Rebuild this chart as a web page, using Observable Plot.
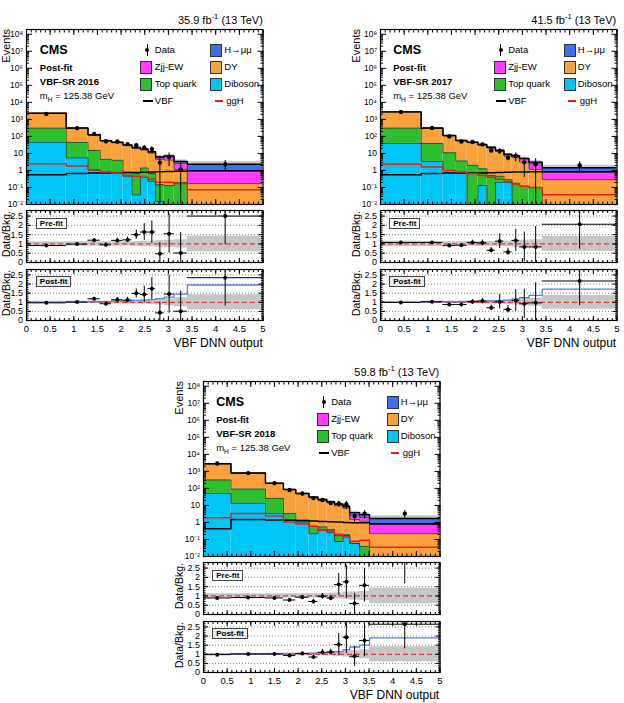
<!DOCTYPE html>
<html><head><meta charset="utf-8">
<script src="https://cdn.jsdelivr.net/npm/d3@7"></script>
<script src="https://cdn.jsdelivr.net/npm/@observablehq/plot@0.6"></script>
<style>
body{margin:0;background:#fff;}
#root{position:relative;width:624px;height:703px;font-family:"Liberation Sans",Arial,Helvetica,sans-serif;color:#000;overflow:hidden;background:#fff;}
#root svg{display:block;overflow:visible;}
.t{position:absolute;white-space:nowrap;}
sub,sup{font-size:70%;line-height:0;}
</style></head><body><div id="root"></div>
<script>
// ---------------- DATA ----------------
const lumis = ["35.9", "41.5", "59.8"];
const yearLabels = ["2016", "2017", "2018"];
const legendLabels = ["Data", "H→μμ", "Zjj-EW", "DY", "Top quark", "Diboson", "VBF", "ggH"];
const ratioLabels = ["Pre-fit", "Post-fit"];

const edges2016 = [0, 0.84, 1.3, 1.56, 1.8, 2.04, 2.23, 2.41, 2.57, 2.73, 2.91, 3.12, 3.4, 5];
const diboson2016 = [45, 5.5, 1.0, 0.9, 0.8, 0.46, 0.037, 0.4, 0.23, 0.015, 0, 0, 0];
const top2016 = [263, 39.5, 14, 3.6, 3.2, 0.34, 0.66, 1.0, 0.43, 0.13, 0.13, 0.2, 0];
const dy2016 = [1970, 255, 103, 48, 38, 28, 19, 14.5, 9.8, 4.35, 3.97, 0.95, 0.17];
const zjj2016 = [15, 6, 4, 2.5, 2, 1.8, 1.6, 1.4, 1.1, 1.0, 2.2, 1.5, 0.78];
const hmm2016 = [3, 2.5, 1.8, 1.5, 1.4, 1.2, 1.2, 1.0, 1.0, 0.7, 0.8, 0.7, 1.35];
const vbf2016 = [0.55, 0.66, 0.7, 0.7, 0.72, 0.75, 0.75, 0.78, 0.82, 0.85, 0.88, 0.9, 0.95];
const ggh2016 = [2.5, 1.8, 1.1, 0.8, 0.7, 0.5, 0.45, 0.4, 0.3, 0.2, 0.2, 0.17, 0.074];
const data2016 = [2100, 300, 140, 52, 50, 35, 30, 22, 18, 2.9, 6.2, 1.15, 2.3];
const pre2016 = [0.91, 0.99, 1.2, 0.95, 1.19, 1.22, 1.5, 1.64, 1.64, 0.47, 1.55, 0.51, 2.5];
const post2016 = [0.97, 1.01, 1.19, 0.92, 1.14, 1.12, 1.49, 1.43, 1.75, 0.42, 1.45, 0.51, 2.35];
const rErr2016 = [0.04, 0.05, 0.09, 0.1, 0.12, 0.15, 0.25, 0.45, 0.6, 0.6, 1.05, 1.1, 1.55];
const sb2016 = [1.0, 1.01, 1.03, 1.04, 1.06, 1.07, 1.1, 1.12, 1.15, 1.2, 1.28, 1.45, 1.95];
const bandPre2016 = [0.12, 0.12, 0.12, 0.12, 0.12, 0.12, 0.13, 0.15, 0.15, 0.18, 0.2, 0.22, 0.42];
const bandPost2016 = [0.06, 0.06, 0.07, 0.07, 0.08, 0.08, 0.09, 0.1, 0.12, 0.15, 0.2, 0.25, 0.42];

const edges2017 = [0, 0.86, 1.32, 1.59, 1.83, 2.06, 2.25, 2.43, 2.61, 2.78, 2.94, 3.14, 3.42, 5];
const diboson2017 = [39, 3.4, 1.0, 0.72, 0, 0.13, 0, 0.2, 0.2, 0, 0, 0, 0];
const top2017 = [269, 35.6, 10, 2.9, 2.0, 1.13, 0.5, 0.26, 0.09, 0.18, 0.12, 0.1, 0];
const dy2017 = [2422, 261, 97, 50.4, 41, 29.2, 20, 12.5, 6.7, 5.4, 3.0, 1.05, 0.29];
const zjj2017 = [15, 6, 4, 2.5, 2, 1.8, 1.5, 1.3, 1.0, 1.0, 1.5, 1.3, 0.5];
const hmm2017 = [3, 2.3, 1.7, 1.5, 1.4, 1.2, 1.1, 1.0, 0.9, 0.8, 0.5, 0.65, 0.65];
const vbf2017 = [0.55, 0.66, 0.7, 0.72, 0.72, 0.72, 0.73, 0.75, 0.78, 0.8, 0.8, 0.85, 0.85];
const ggh2017 = [2.3, 1.6, 1.0, 0.8, 0.65, 0.5, 0.4, 0.3, 0.22, 0.16, 0.12, 0.1, 0.037];
const data2017 = [2750, 310, 100, 50, 47, 34, 15, 14, 5.5, 7, 3, 2.3, 2.0];
const pre2017 = [1.08, 1.08, 0.91, 0.93, 1.08, 1.06, 0.66, 1.15, 0.57, 1.19, 0.84, 0.84, 2.06];
const post2017 = [0.99, 1.03, 0.88, 0.88, 1.03, 1.07, 0.7, 1.03, 0.61, 1.1, 0.92, 0.97, 2.17];
const rErr2017 = [0.03, 0.05, 0.08, 0.08, 0.12, 0.15, 0.15, 0.4, 0.2, 0.6, 0.8, 1.1, 1.35];
const sb2017 = [1.0, 1.02, 1.03, 1.03, 1.05, 1.06, 1.07, 1.1, 1.12, 1.18, 1.25, 1.38, 1.72];
const bandPre2017 = [0.15, 0.13, 0.12, 0.12, 0.12, 0.13, 0.13, 0.14, 0.15, 0.18, 0.2, 0.22, 0.4];
const bandPost2017 = [0.06, 0.06, 0.07, 0.07, 0.08, 0.08, 0.09, 0.1, 0.12, 0.14, 0.18, 0.22, 0.38];

const edges2018 = [0, 0.58, 1.31, 1.69, 1.95, 2.23, 2.42, 2.61, 2.77, 2.95, 3.09, 3.3, 3.51, 5];
const diboson2018 = [51, 13.5, 3.4, 1.4, 0.95, 0.22, 0.38, 0.25, 0.077, 0.17, 0.06, 0, 0];
const top2018 = [265, 78.5, 22.6, 2.0, 0.45, 0.38, 0.17, 0.13, 0.09, 0.02, 0, 0.039, 0];
const dy2018 = [2484, 688, 169, 78.6, 45.6, 27.4, 18.5, 13.6, 9.3, 6.3, 1.44, 1.16, 0.22];
const zjj2018 = [20, 10, 5, 3, 2.5, 2, 1.8, 1.5, 1.5, 1.3, 1.0, 0.8, 0.54];
const hmm2018 = [3, 4.5, 3.5, 2.2, 1.8, 1.5, 1.3, 1.2, 1.2, 1.1, 1.3, 0.9, 0.94];
const vbf2018 = [0.42, 1.5, 1.4, 1.35, 1.25, 1.2, 1.15, 1.1, 1.05, 1.0, 0.95, 0.95, 0.85];
const ggh2018 = [1.9, 3.3, 2.4, 1.05, 0.8, 0.6, 0.35, 0.3, 0.2, 0.14, 0.08, 0.09, 0.035];
const data2018 = [2900, 790, 200, 80, 50, 27, 21, 14, 13, 11.7, 2.4, 3.3, 3.3];
const pre2018 = [0.89, 0.91, 0.89, 0.78, 0.93, 0.7, 0.98, 0.89, 1.61, 1.76, 0.59, 1.57, 3.0];
const post2018 = [0.98, 1.02, 1.02, 0.93, 1.04, 0.85, 1.11, 1.13, 1.54, 1.94, 0.89, 1.76, 2.65];
const rErr2018 = [0.03, 0.03, 0.05, 0.07, 0.1, 0.12, 0.15, 0.15, 0.6, 0.9, 0.55, 0.9, 1.35];
const sb2018 = [1.0, 1.01, 1.02, 1.03, 1.04, 1.06, 1.08, 1.1, 1.15, 1.25, 1.4, 1.5, 1.9];
const bandPre2018 = [0.12, 0.12, 0.12, 0.12, 0.12, 0.12, 0.13, 0.15, 0.16, 0.2, 0.22, 0.25, 0.42];
const bandPost2018 = [0.05, 0.05, 0.06, 0.07, 0.08, 0.08, 0.09, 0.1, 0.12, 0.15, 0.2, 0.25, 0.42];

const yTicks = [1e-2, 1e-1, 1, 10, 1e2, 1e3, 1e4, 1e5, 1e6, 1e7, 1e8];
const xTicks = [0, 0.5, 1, 1.5, 2, 2.5, 3, 3.5, 4, 4.5, 5];
const rTicks = [0, 0.5, 1, 1.5, 2, 2.5];

// ---------------- STYLE ----------------
const FONT = '"Liberation Sans", Arial, Helvetica, sans-serif';
const C = {diboson: "#00c6f8", top: "#2dbf2d", dy: "#f9a13c", zjj: "#ff3cff", hmm: "#3f6ff0",
           vbf: "#000000", ggh: "#e8201c", band: "#c6c6c6", sb: "#5b7fe0", one: "#d83a3a"};
const FW = 236.5, MAIN_H = 175, PRE_H = 52, POST_H = 51;
const FLOOR = 1e-4;

const panels = [
  {ox: 26.3, oy: 29, i: 0, edges: edges2016, diboson: diboson2016, top: top2016, dy: dy2016, zjj: zjj2016, hmm: hmm2016,
   vbf: vbf2016, ggh: ggh2016, data: data2016, pre: pre2016, post: post2016, rErr: rErr2016, sb: sb2016, bandPre: bandPre2016, bandPost: bandPost2016},
  {ox: 379.7, oy: 29, i: 1, edges: edges2017, diboson: diboson2017, top: top2017, dy: dy2017, zjj: zjj2017, hmm: hmm2017,
   vbf: vbf2017, ggh: ggh2017, data: data2017, pre: pre2017, post: post2017, rErr: rErr2017, sb: sb2017, bandPre: bandPre2017, bandPost: bandPost2017},
  {ox: 202.7, oy: 381, i: 2, edges: edges2018, diboson: diboson2018, top: top2018, dy: dy2018, zjj: zjj2018, hmm: hmm2018,
   vbf: vbf2018, ggh: ggh2018, data: data2018, pre: pre2018, post: post2018, rErr: rErr2018, sb: sb2018, bandPre: bandPre2018, bandPost: bandPost2018}
];

// ---------------- HELPERS ----------------
const root = document.getElementById("root");
const SUP = {"-": "⁻", "0": "⁰", "1": "¹", "2": "²", "3": "³", "4": "⁴", "5": "⁵", "6": "⁶", "7": "⁷", "8": "⁸", "9": "⁹"};
const supFmt = d => {
  const k = Math.round(Math.log10(d));
  if (k === 0) return "1";
  if (k === 1) return "10";
  return "10" + String(k).split("").map(c => SUP[c]).join("");
};
const plainFmt = d => String(d);
const noFmt = () => "";

function steps(edges, vals, floor) {
  const pts = [];
  vals.forEach((v, i) => { const y = Math.max(v, floor); pts.push({x: edges[i], y}, {x: edges[i + 1], y}); });
  return pts;
}
function place(svg, left, top) {
  const w = document.createElement("div");
  w.style.cssText = `position:absolute;left:${left}px;top:${top}px;`;
  w.appendChild(svg);
  root.appendChild(w);
}
function text(html, style) {
  const e = document.createElement("div");
  e.className = "t";
  e.style.cssText = style;
  e.innerHTML = html;
  root.appendChild(e);
  return e;
}
function vtext(str, xc, top, size) {
  const lh = Math.round(size);
  const left = Math.max(0.5, xc - lh / 2);
  return text(str, `left:${left}px;top:${top}px;font-size:${size}px;line-height:${lh}px;transform-origin:0 0;transform:rotate(-90deg) translateX(-100%);`);
}
function box(left, top, w, h, fill) {
  const e = document.createElement("div");
  e.style.cssText = `position:absolute;left:${left}px;top:${top}px;width:${w}px;height:${h}px;background:${fill};box-sizing:border-box;`;
  root.appendChild(e);
  return e;
}

const xMinor = d3.range(0, 51).map(i => i / 10);
const yMinor = [];
for (let k = -2; k <= 8; k++) for (let m = 2; m <= 9; m++) { const v = m * 10 ** k; if (v < 1.9e8) yMinor.push(v); }
const rMinor = d3.range(0, 28).map(i => i / 10);

function frameTicks(xMaj, yMaj, yMin, xLen, yLen) {
  return [
    Plot.axisX(xMaj, {anchor: "bottom", tickSize: -xLen, tickFormat: noFmt, label: null}),
    Plot.axisX(xMaj, {anchor: "top", tickSize: -xLen, tickFormat: noFmt, label: null}),
    Plot.axisX(xMinor, {anchor: "bottom", tickSize: -xLen / 2, tickFormat: noFmt, label: null}),
    Plot.axisX(xMinor, {anchor: "top", tickSize: -xLen / 2, tickFormat: noFmt, label: null}),
    Plot.axisY(yMaj, {anchor: "left", tickSize: -yLen, tickFormat: noFmt, label: null}),
    Plot.axisY(yMaj, {anchor: "right", tickSize: -yLen, tickFormat: noFmt, label: null}),
    Plot.axisY(yMin, {anchor: "left", tickSize: -yLen / 2, tickFormat: noFmt, label: null}),
    Plot.axisY(yMin, {anchor: "right", tickSize: -yLen / 2, tickFormat: noFmt, label: null})
  ];
}

// ---------------- MAIN PANEL ----------------
function mainPlot(p) {
  const n = p.dy.length;
  const comps = [
    {vals: p.diboson, color: C.diboson},
    {vals: p.top, color: C.top},
    {vals: p.dy, color: C.dy},
    {vals: p.zjj, color: C.zjj},
    {vals: p.hmm, color: C.hmm}
  ];
  const rects = [];
  const layerTops = [];
  const cum = new Array(n).fill(0);
  for (const c of comps) {
    for (let i = 0; i < n; i++) {
      const v = c.vals[i];
      if (v > 0) rects.push({x1: p.edges[i], x2: p.edges[i + 1], y1: Math.max(cum[i], FLOOR), y2: cum[i] + v, color: c.color});
      cum[i] += v;
    }
    layerTops.push(cum.slice());
  }
  const total = cum;
  const band = total.map((t, i) => ({x1: p.edges[i], x2: p.edges[i + 1], y1: t, y2: t * (1 + p.bandPost[i])}));
  const pts = p.data.map((d, i) => {
    const e = d * p.rErr[i] / p.post[i];
    return {xc: (p.edges[i] + p.edges[i + 1]) / 2, y: d, lo: Math.max(d - e, 0.011), hi: d + e};
  });
  const marks = [
    Plot.rect(band, {x1: "x1", x2: "x2", y1: "y1", y2: "y2", fill: C.band, clip: true}),
    Plot.rect(rects, {x1: "x1", x2: "x2", y1: "y1", y2: "y2", fill: "color", clip: true}),
    ...layerTops.slice(0, 4).map(t => Plot.line(steps(p.edges, t, FLOOR), {x: "x", y: "y", stroke: "#222", strokeWidth: 0.7, clip: true})),
    Plot.line(steps(p.edges, total, FLOOR), {x: "x", y: "y", stroke: "#000", strokeWidth: 1.4, clip: true}),
    Plot.line(steps(p.edges, p.vbf, FLOOR), {x: "x", y: "y", stroke: C.vbf, strokeWidth: 1.5, clip: true}),
    Plot.line(steps(p.edges, p.ggh, FLOOR), {x: "x", y: "y", stroke: C.ggh, strokeWidth: 1.5, clip: true}),
    Plot.ruleX(pts, {x: "xc", y1: "lo", y2: "hi", stroke: "#000", strokeWidth: 1, clip: true}),
    Plot.dot(pts, {x: "xc", y: "y", r: 2.2, fill: "#000", stroke: "none", clip: true}),
    Plot.frame({stroke: "#000", strokeWidth: 1.2}),
    ...frameTicks(xTicks, yTicks, yMinor, 5, 6),
    Plot.axisY(yTicks, {anchor: "left", tickSize: 0, tickPadding: 3.5, tickFormat: supFmt, label: null, fontSize: 8.5})
  ];
  const ML = 30, MT = 6;
  const svg = Plot.plot({
    width: ML + FW + 6, height: MT + MAIN_H + 3,
    marginLeft: ML, marginRight: 6, marginTop: MT, marginBottom: 3,
    style: {fontFamily: FONT, fontSize: "8.5px", background: "transparent", color: "#000"},
    x: {domain: [0, 5], axis: null, label: null},
    y: {type: "log", domain: [0.01, 1.9e8], axis: null, label: null},
    marks
  });
  place(svg, p.ox - ML, p.oy - MT);
}

// ---------------- RATIO PANELS ----------------
function ratioPlot(p, kind, top, h, showX) {
  const vals = kind === "pre" ? p.pre : p.post;
  const bandV = kind === "pre" ? p.bandPre : p.bandPost;
  const bins = vals.map((r, i) => ({x1: p.edges[i], x2: p.edges[i + 1], xc: (p.edges[i] + p.edges[i + 1]) / 2,
    r, lo: Math.max(0, r - p.rErr[i]), hi: r + p.rErr[i], b1: 1 - bandV[i], b2: 1 + bandV[i]}));
  const marks = [
    Plot.rect(bins, {x1: "x1", x2: "x2", y1: "b1", y2: "b2", fill: C.band, clip: true}),
    Plot.ruleY([0.5, 1.5, 2, 2.5], {stroke: "#666", strokeDasharray: "1,2", strokeWidth: 0.8}),
    Plot.ruleY([1], {stroke: C.one, strokeDasharray: "5,3", strokeWidth: 1.2}),
    kind === "post" ? Plot.line(steps(p.edges, p.sb, 0), {x: "x", y: "y", stroke: C.sb, strokeWidth: 1.3, clip: true}) : null,
    Plot.ruleY(bins, {x1: "x1", x2: "x2", y: "r", stroke: "#000", strokeWidth: 1, clip: true}),
    Plot.ruleX(bins, {x: "xc", y1: "lo", y2: "hi", stroke: "#000", strokeWidth: 1, clip: true}),
    Plot.dot(bins, {x: "xc", y: "r", r: 2, fill: "#000", stroke: "none", clip: true}),
    Plot.frame({stroke: "#000", strokeWidth: 1.2}),
    ...frameTicks(xTicks, rTicks, rMinor, 4, 5),
    Plot.axisY(rTicks, {anchor: "left", tickSize: 0, tickPadding: 3.5, tickFormat: plainFmt, label: null, fontSize: 9}),
    showX ? Plot.axisX(xTicks, {anchor: "bottom", tickSize: 0, tickPadding: 4.5, tickFormat: plainFmt, label: null, fontSize: 9.5}) : null
  ];
  const ML = 30, MT = 4, MB = showX ? 18 : 3;
  const svg = Plot.plot({
    width: ML + FW + 6, height: MT + h + MB,
    marginLeft: ML, marginRight: 6, marginTop: MT, marginBottom: MB,
    style: {fontFamily: FONT, fontSize: "9px", background: "transparent", color: "#000"},
    x: {domain: [0, 5], axis: null, label: null},
    y: {domain: [0, 2.8], axis: null, label: null},
    marks
  });
  place(svg, p.ox - ML, top - MT);
}

// ---------------- TEXT OVERLAYS ----------------
function labels(p) {
  const {ox, oy, i} = p;
  const preTop = oy + 181, postTop = oy + 240;
  text(`${lumis[i]} fb<sup>-1</sup> (13 TeV)`, `right:${624 - (ox + FW)}px;top:${oy - 16}px;font-size:11px;line-height:14px;`);
  vtext("Events", ox - 23.5, oy, 11);
  text("CMS", `left:${ox + 13.5}px;top:${oy + 14}px;font-size:12.5px;line-height:14px;font-weight:bold;`);
  text("Post-fit", `left:${ox + 13.5}px;top:${oy + 33}px;font-size:9.5px;line-height:12px;font-weight:bold;`);
  text(`VBF-SR ${yearLabels[i]}`, `left:${ox + 13.5}px;top:${oy + 47}px;font-size:9.5px;line-height:12px;font-weight:bold;`);
  text("m<sub>H</sub> = 125.38 GeV", `left:${ox + 13.5}px;top:${oy + 61}px;font-size:9.5px;line-height:12px;`);
  // legend
  const rows = [oy + 21, oy + 38, oy + 55, oy + 72];
  const lt = (s, x, yc) => text(s, `left:${x}px;top:${yc - 6}px;font-size:9.5px;line-height:12px;`);
  const sw = (x, yc, col) => { const b = box(x, yc - 6.5, 12, 13, col); b.style.border = "1px solid #333"; };
  box(ox + 120.5, rows[0] - 6, 1, 12, "#000");
  const dot = box(ox + 118.8, rows[0] - 2.2, 4.4, 4.4, "#000"); dot.style.borderRadius = "50%";
  lt(legendLabels[0], ox + 128.5, rows[0]);
  sw(ox + 184, rows[0], C.hmm); lt(legendLabels[1], ox + 198, rows[0]);
  sw(ox + 114, rows[1], C.zjj); lt(legendLabels[2], ox + 128.5, rows[1]);
  sw(ox + 184, rows[1], C.dy); lt(legendLabels[3], ox + 198, rows[1]);
  sw(ox + 114, rows[2], C.top); lt(legendLabels[4], ox + 128.5, rows[2]);
  sw(ox + 184, rows[2], C.diboson); lt(legendLabels[5], ox + 198, rows[2]);
  box(ox + 116.5, rows[3] - 0.9, 10, 1.8, C.vbf); lt(legendLabels[6], ox + 128.5, rows[3]);
  box(ox + 188.5, rows[3] - 0.9, 8, 1.8, C.ggh); lt(legendLabels[7], ox + 200, rows[3]);
  // ratio labels
  vtext("Data/Bkg.", ox - 23.5, preTop + 1, 10.5);
  vtext("Data/Bkg.", ox - 23.5, postTop + 1, 10.5);
  const tag = (s, top, bg) => text(s, `left:${ox + 9.5}px;top:${top}px;font-size:8px;line-height:9px;font-weight:bold;border:1px solid #444;padding:0 3px;background:${bg};`);
  tag(ratioLabels[0], preTop + 8, "#fff");
  tag(ratioLabels[1], postTop + 7, "#ececec");
  text("VBF DNN output", `right:${624 - (ox + FW)}px;top:${oy + 306}px;font-size:12px;line-height:16px;`);
}

for (const p of panels) {
  mainPlot(p);
  ratioPlot(p, "pre", p.oy + 181, PRE_H, false);
  ratioPlot(p, "post", p.oy + 240, POST_H, true);
  labels(p);
}
</script></body></html>
